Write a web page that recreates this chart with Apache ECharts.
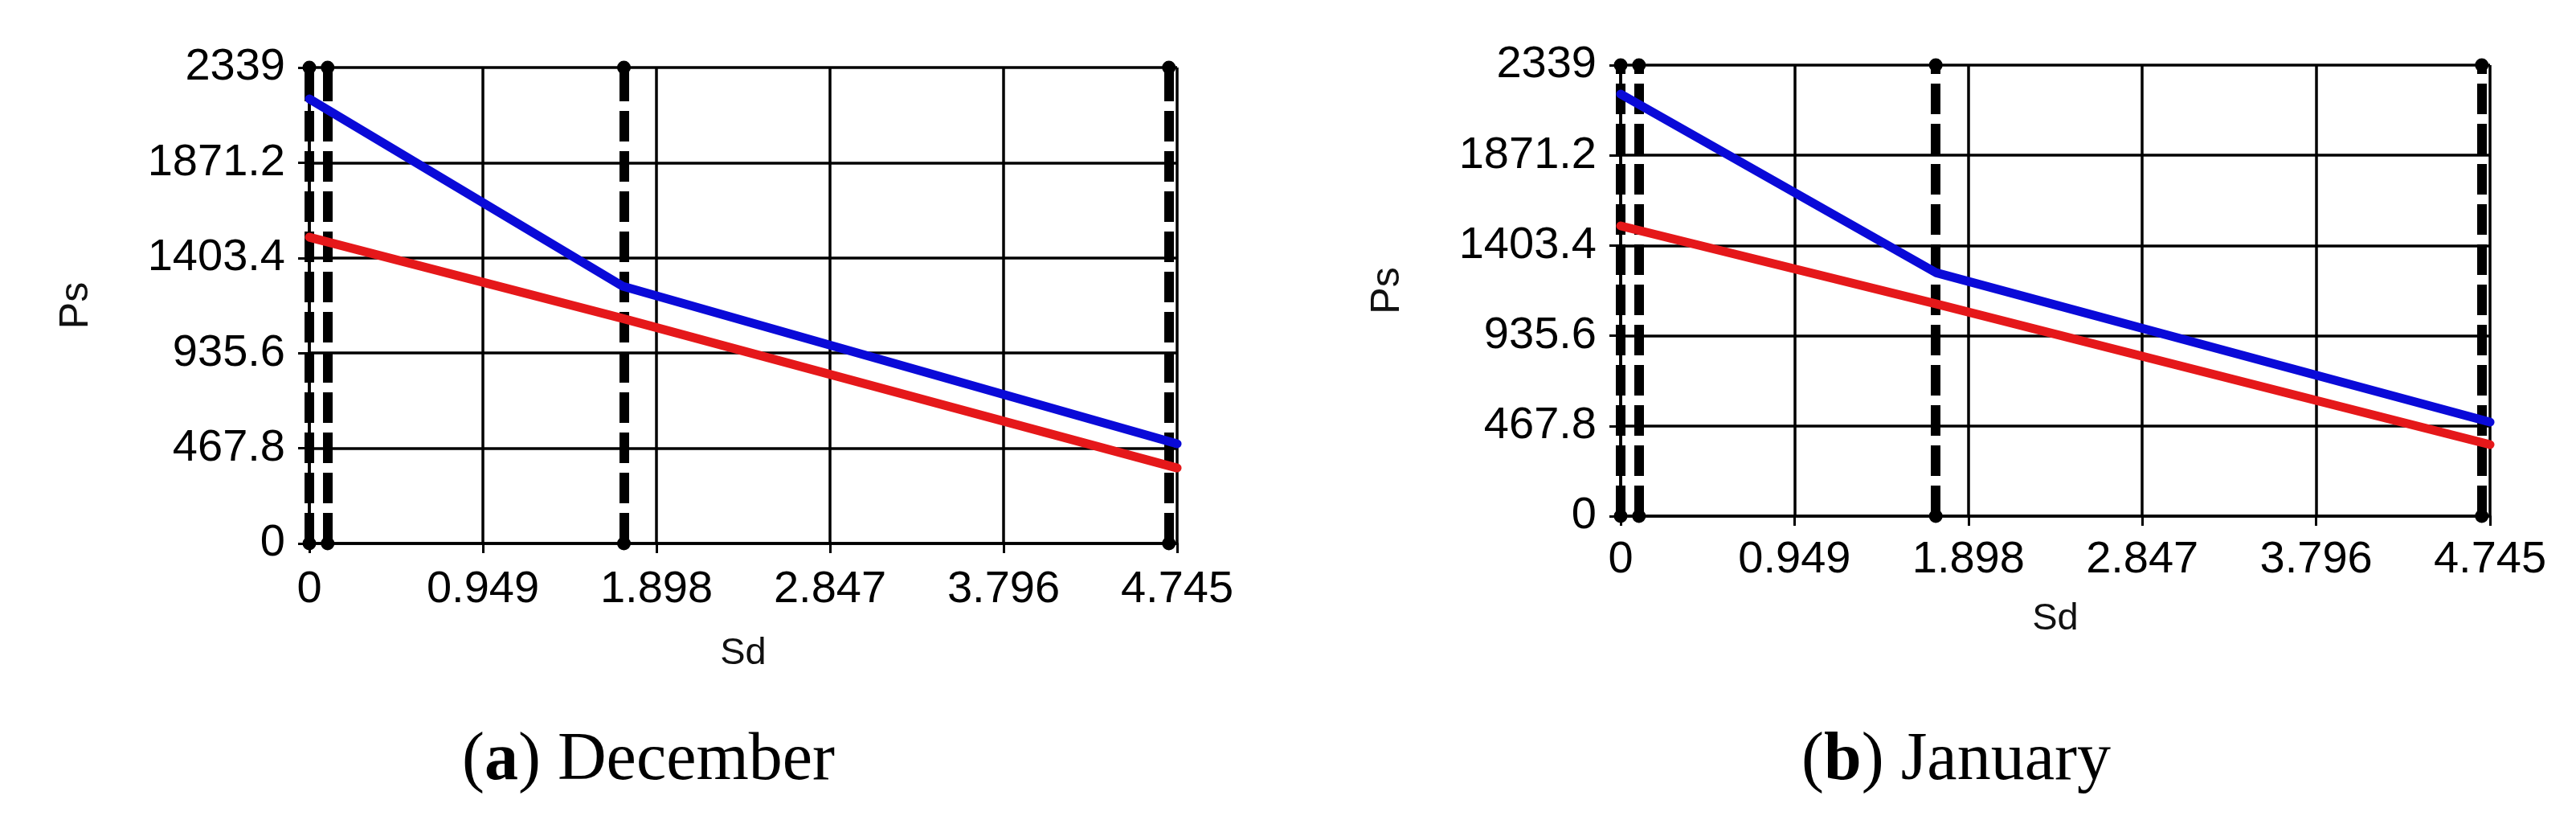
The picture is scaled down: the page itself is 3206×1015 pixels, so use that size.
<!DOCTYPE html>
<html>
<head>
<meta charset="utf-8">
<script src="https://cdn.jsdelivr.net/npm/echarts@6/dist/echarts.min.js"></script>
<style>
html,body{margin:0;padding:0;background:#fff;}
#c{width:3206px;height:1015px;}
</style>
</head>
<body>
<div id="c"></div>
<script>
// ---- data ----
const decSd   = [0, 1.713, 4.745];
const decBlue = [2185, 1264, 490];
const decRed  = [1505, 1106, 371];
const janSd   = [0, 1.72, 4.745];
const janBlue = [2189, 1263, 488];
const janRed  = [1505, 1101, 371];
const dashedSd = [0, 0.1, 1.715, 4.7];
const yTickLabels = ['0', '467.8', '935.6', '1403.4', '1871.2', '2339'];
const xTickLabels = ['0', '0.949', '1.898', '2.847', '3.796', '4.745'];
const captions = [['a', ' December'], ['b', ' January']];
const yStep = 467.8, xStep = 0.949;

const chart = echarts.init(document.getElementById('c'), null, {renderer: 'canvas'});

const labelFont = {fontFamily: 'Liberation Sans', fontSize: 56, color: '#000'};
const grids = [
  {left: 385, top: 84, width: 1080, height: 592, outerBoundsMode: 'none'},
  {left: 2017, top: 81, width: 1082, height: 561, outerBoundsMode: 'none'}
];
const xNameGap = [114, 105];
const xLabelMargin = [30, 27];

function xAxisFor(i) {
  return {
    type: 'value', gridIndex: i, min: 0, max: 4.745, interval: xStep,
    name: 'Sd', nameLocation: 'middle', nameGap: xNameGap[i],
    nameTextStyle: {fontFamily: 'Liberation Sans', fontSize: 47, color: '#111'},
    axisLine: {show: true, onZero: false, lineStyle: {color: '#000', width: 3.5}},
    axisTick: {show: true, length: 12, lineStyle: {color: '#000', width: 3}},
    axisLabel: Object.assign({margin: xLabelMargin[i], showMinLabel: true, showMaxLabel: true,
      formatter: v => xTickLabels[Math.round(v / xStep)]}, labelFont),
    splitLine: {show: true, lineStyle: {color: '#000', width: 3.5}}
  };
}
function yAxisFor(i) {
  return {
    type: 'value', gridIndex: i, min: 0, max: 2339, interval: yStep,
    name: 'Ps', nameLocation: 'middle', nameGap: 265, nameRotate: 90,
    nameTextStyle: {fontFamily: 'Liberation Sans', fontSize: 50, color: '#111'},
    axisLine: {show: true, onZero: false, lineStyle: {color: '#000', width: 3.5}},
    axisTick: {show: true, length: 14, lineStyle: {color: '#000', width: 3}},
    axisLabel: Object.assign({margin: 30, showMinLabel: true, showMaxLabel: true,
      formatter: v => yTickLabels[Math.round(v / yStep)]}, labelFont),
    splitLine: {show: true, lineStyle: {color: '#000', width: 3.5}}
  };
}

function pairs(xs, ys) { return xs.map((x, k) => [x, ys[k]]); }

function lineSeries(i, xs, ys, color) {
  return {
    type: 'line', xAxisIndex: i, yAxisIndex: i, data: pairs(xs, ys),
    symbol: 'none', smooth: false, z: 5, animation: false,
    lineStyle: {color: color, width: 11, cap: 'round', join: 'round'}
  };
}
function dashedSeries(i) {
  return {
    type: 'line', xAxisIndex: i, yAxisIndex: i, data: [], z: 3, animation: false,
    markLine: {
      silent: true, animation: false,
      symbol: ['circle', 'circle'], symbolSize: 17,
      label: {show: false},
      lineStyle: {color: '#000', width: 12, type: [38, 12], opacity: 1},
      itemStyle: {color: '#000'},
      data: dashedSd.map(x => ({xAxis: x}))
    }
  };
}

const captionLeft = [570, 2237];
const option = {
  animation: false,
  backgroundColor: '#fff',
  grid: grids,
  xAxis: [xAxisFor(0), xAxisFor(1)],
  yAxis: [yAxisFor(0), yAxisFor(1)],
  title: captions.map((c, i) => ({
    text: '{n|(}{b|' + c[0] + '}{n|)' + c[1] + '}',
    left: captionLeft[i], top: 900,
    textStyle: {
      fontWeight: 'normal',
      rich: {
        n: {fontFamily: 'Liberation Serif', fontSize: 84, fontWeight: 'normal', color: '#000'},
        b: {fontFamily: 'Liberation Serif', fontSize: 84, fontWeight: 'bold', color: '#000'}
      }
    }
  })),
  series: [
    dashedSeries(0),
    dashedSeries(1),
    lineSeries(0, decSd, decRed, '#e5181a'),
    lineSeries(0, decSd, decBlue, '#0a0ad8'),
    lineSeries(1, janSd, janRed, '#e5181a'),
    lineSeries(1, janSd, janBlue, '#0a0ad8')
  ]
};
chart.setOption(option);
</script>
</body>
</html>
